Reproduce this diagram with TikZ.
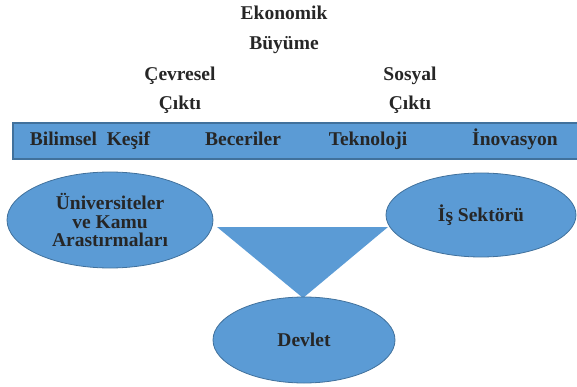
\documentclass[tikz,border=0pt]{standalone}
\usepackage{fontspec}
\setmainfont{Liberation Serif}
\usetikzlibrary{shapes.geometric}
\definecolor{boxblue}{HTML}{5B9BD5}
\definecolor{edgeblue}{HTML}{41719C}

\begin{document}
\begin{tikzpicture}[x=1pt,y=-1pt,
  lbl/.style={font=\bfseries\fontsize{19.5}{18.5}\selectfont,text=black!85,inner sep=0pt},
  blob/.style={ellipse,lbl,fill=boxblue,draw=edgeblue,line width=0.8pt,align=center}]
  \useasboundingbox (0,0) rectangle (577,387);
  % triangle between the three actors
  \coordinate (L) at (217,227); \coordinate (R) at (388,227);
  \coordinate (T) at (303,298);
  \fill[boxblue] (L)--(R)--(T)--cycle;
  % outputs on top
  \foreach \x/\y/\t/\n in {284/20/Ekonomik/eko, 284/50/Büyüme/buy,
      180/81/Çevresel/cev, 180/110/Çıktı/cevc,
      410/81/Sosyal/sos, 410/110/Çıktı/sosc}
    \node[lbl,anchor=base] (\n) at (\x,\y) {\t};
  % bar
  \draw[fill=boxblue,draw=edgeblue,line width=1.5pt] (13,123) rectangle (590,159);
  \foreach \x/\t/\n in {90/{Bilimsel\ \ Keşif}/bil, 243/Beceriler/bec,
      368/Teknoloji/tek, 515/İnovasyon/ino}
    \node[lbl,anchor=base] (\n) at (\x,146) {\t};
  % actors
  \node[blob,minimum width=206pt,minimum height=96pt] (uni) at (110,220)
    {Üniversiteler\\ve Kamu\\Arastırmaları};
  \node[blob,minimum width=190pt,minimum height=84pt] (is) at (481,215) {İş Sektörü};
  \node[blob,minimum width=182pt,minimum height=86pt] (dev) at (304,340) {Devlet};
\end{tikzpicture}
\end{document}
